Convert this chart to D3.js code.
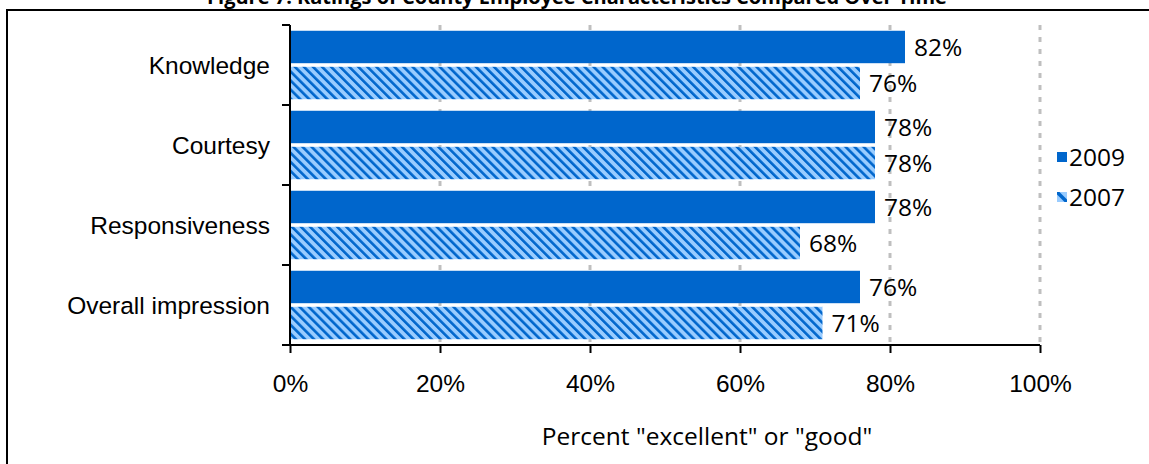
<!DOCTYPE html>
<html><head><meta charset="utf-8">
<script src="https://cdn.jsdelivr.net/npm/d3@7"></script>
<style>
body{margin:0;background:#fff;}
svg{display:block;font-family:"Open Sans","Noto Sans",sans-serif;}
</style></head><body>
<svg id="chart" width="1149" height="464"></svg>
<script>
const categories = ["Knowledge","Courtesy","Responsiveness","Overall impression"];
const series = ["2009","2007"];
const values2009 = [82,78,78,76];
const values2007 = [76,78,68,71];
const xTicks = [0,20,40,60,80,100];
const title = "Figure 7: Ratings of County Employee Characteristics Compared Over Time";
const xTitle = 'Percent "excellent" or "good"';

const svg = d3.select("#chart");
const dark = "#0066CC", light = "#99CCFF";
const pL = 290, pR = 1040, pT = 25, pB = 345;
const fs = 24.5;

const defs = svg.append("defs");
const pat = defs.append("pattern").attr("id","hatch").attr("patternUnits","userSpaceOnUse")
  .attr("width",6.4).attr("height",6.4).attr("patternTransform","rotate(-45)");
pat.append("rect").attr("width",6.4).attr("height",6.4).attr("fill",light);
pat.append("rect").attr("width",2.6).attr("height",6.4).attr("fill",dark);

// frame
svg.append("line").attr("x1",7).attr("x2",1149).attr("y1",10).attr("y2",10).attr("stroke","#000").attr("stroke-width",2);
svg.append("line").attr("x1",7).attr("x2",7).attr("y1",9).attr("y2",464).attr("stroke","#000").attr("stroke-width",2);

svg.append("text").attr("x",577).attr("y",4).attr("text-anchor","middle")
  .attr("font-size",20).attr("font-weight","bold").text(title);

const x = d3.scaleLinear().domain([0,100]).range([pL,pR]);
const y = d3.scaleBand().domain(categories).range([pT,pB]);
const yInner = d3.scaleBand().domain(series).range([0,y.bandwidth()]).paddingInner(0.1).paddingOuter(0.16);

// gridlines
svg.append("g").selectAll("line").data(xTicks.filter(d=>d>0)).join("line")
  .attr("x1",d=>x(d)).attr("x2",d=>x(d)).attr("y1",pT).attr("y2",pB)
  .attr("stroke","#BFBFBF").attr("stroke-width",3).attr("stroke-dasharray","5,7");

const data = [];
categories.forEach((c,i)=>{
  data.push({c, s:"2009", v:values2009[i]});
  data.push({c, s:"2007", v:values2007[i]});
});

svg.append("g").selectAll("rect").data(data).join("rect")
  .attr("x",x(0)).attr("y",d=>y(d.c)+yInner(d.s))
  .attr("width",d=>x(d.v)-x(0)).attr("height",yInner.bandwidth())
  .attr("fill",d=>d.s==="2009"?dark:"url(#hatch)");

svg.append("g").selectAll("text").data(data).join("text")
  .attr("x",d=>x(d.v)+9).attr("y",d=>y(d.c)+yInner(d.s)+yInner.bandwidth()/2)
  .attr("dy","0.36em").attr("font-size",fs).attr("fill","#000")
  .text(d=>d.v+"%");

// axes
const xAxis = svg.append("g").attr("transform",`translate(0,${pB})`)
  .call(d3.axisBottom(x).tickValues(xTicks).tickFormat(d=>d+"%").tickSize(8).tickPadding(22));
const yAxis = svg.append("g").attr("transform",`translate(${pL},0)`)
  .call(d3.axisLeft(y).tickSize(0).tickPadding(20));
svg.append("g").selectAll("line").data(d3.range(categories.length+1)).join("line")
  .attr("x1",pL-8).attr("x2",pL).attr("y1",i=>pT+i*y.step()).attr("y2",i=>pT+i*y.step())
  .attr("stroke","#000").attr("stroke-width",2);
[xAxis,yAxis].forEach(g=>{
  g.select(".domain").attr("stroke","#000").attr("stroke-width",2);
  g.selectAll(".tick line").attr("stroke","#000").attr("stroke-width",2);
  g.selectAll(".tick text").attr("font-size",fs).attr("fill","#000").attr("font-family",null);
});
yAxis.selectAll(".tick text").attr("dy","0.36em");
xAxis.select(".domain").attr("d",`M${pL-8},0H${pR}`);
yAxis.select(".domain").attr("d",`M0,${pT}V${pB}`);

svg.append("text").attr("x",707).attr("y",445).attr("text-anchor","middle")
  .attr("font-size",fs).text(xTitle);

// legend
const lg = svg.append("g");
const lx = 1057, ly = [152,192];
defs.append("clipPath").attr("id","lclip").append("rect").attr("x",lx).attr("y",ly[1]).attr("width",10).attr("height",10);
lg.append("rect").attr("x",lx).attr("y",ly[0]).attr("width",10).attr("height",10).attr("fill",dark);
const l2 = lg.append("g").attr("clip-path","url(#lclip)");
l2.append("rect").attr("x",lx).attr("y",ly[1]).attr("width",10).attr("height",10).attr("fill",light);
l2.append("line").attr("x1",lx).attr("y1",ly[1]).attr("x2",lx+10).attr("y2",ly[1]+10).attr("stroke",dark).attr("stroke-width",3.5);
lg.selectAll("text").data(series).join("text")
  .attr("x",lx+12).attr("y",(d,i)=>ly[i]+5).attr("dy","0.36em").attr("font-size",fs).text(d=>d);
</script>
</body></html>
